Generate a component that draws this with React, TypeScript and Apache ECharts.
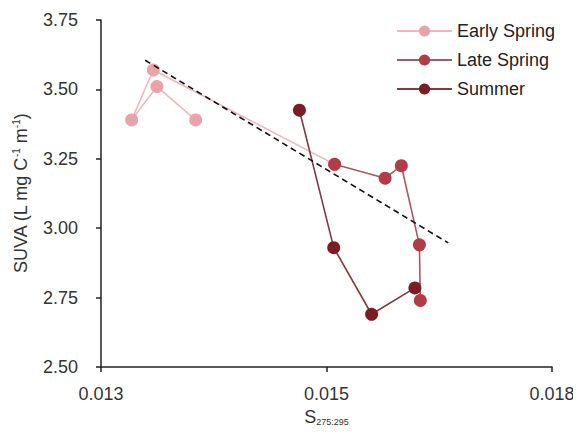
import React, { useEffect, useRef } from "react";
import * as echarts from "echarts";

const seriesNames = ["Early Spring", "Late Spring", "Summer"];
const earlySpring: [number, number][] = [
  [0.01355, 3.39],
  [0.01312, 3.51],
  [0.01284, 3.39],
  [0.01308, 3.57],
  [0.01509, 3.23],
];
const lateSpring: [number, number][] = [
  [0.01509, 3.23],
  [0.01565, 3.18],
  [0.01583, 3.225],
  [0.01603, 2.94],
  [0.01604, 2.74],
];
const summer: [number, number][] = [
  [0.0147, 3.425],
  [0.01508, 2.93],
  [0.0155, 2.69],
  [0.01598, 2.785],
];
const trendLine: [number, number][] = [
  [0.01299, 3.605],
  [0.01635, 2.947],
];
const xTickLabels = ["0.013", "0.015", "0.018"];

const markerColors = ["#e9a4a8", "#b23b45", "#7b1d23"];
const lineColors = ["#efb7ba", "#a8595e", "#84393e"];

export default function App() {
  const ref = useRef<HTMLDivElement>(null);
  useEffect(() => {
    if (!ref.current) return;
    const chart = echarts.init(ref.current, undefined, { renderer: "svg" });
    const font = "'Liberation Sans', Arial, sans-serif";
    const mk = (name: string, data: [number, number][], i: number) => ({
      name,
      type: "line",
      data,
      symbol: "circle",
      symbolSize: 13,
      itemStyle: { color: markerColors[i] },
      lineStyle: { color: lineColors[i], width: 1.6 },
      z: 2 + i,
    });
    chart.setOption({
      animation: false,
      textStyle: { fontFamily: font },
      grid: { left: 93, right: 29, top: 12, bottom: 73, containLabel: false, outerBoundsMode: "none" },
      legend: {
        data: seriesNames,
        orient: "vertical",
        left: 383,
        top: 9,
        itemWidth: 55,
        itemHeight: 14,
        itemGap: 11,
        textStyle: { fontSize: 18, color: "#222", fontFamily: font },
      },
      xAxis: {
        type: "value",
        min: 0.0125,
        max: 0.0175,
        interval: 0.0025,
        splitLine: { show: false },
        axisLine: { lineStyle: { color: "#222", width: 1.5 } },
        axisTick: { inside: false, length: 5, lineStyle: { color: "#222", width: 1.5 } },
        axisLabel: {
          margin: 18,
          fontSize: 18,
          color: "#333",
          formatter: (v: number) => xTickLabels[Math.round((v - 0.0125) / 0.0025)] ?? "",
        },
        name: "{s|S}{sub|275:295}",
        nameLocation: "middle",
        nameGap: 38,
        nameTextStyle: {
          rich: {
            s: { fontSize: 18, color: "#333", fontFamily: font },
            sub: { fontSize: 9, color: "#333", fontFamily: font, padding: [10, 0, 0, 0] },
          },
        },
      },
      yAxis: {
        type: "value",
        min: 2.5,
        max: 3.75,
        interval: 0.25,
        splitLine: { show: false },
        axisLine: { show: true, lineStyle: { color: "#222", width: 1.5 } },
        axisTick: { show: true, inside: false, length: 5, lineStyle: { color: "#222", width: 1.5 } },
        axisLabel: {
          margin: 23,
          fontSize: 18,
          color: "#333",
          formatter: (v: number) => v.toFixed(2),
        },
        name: "{t|SUVA (L mg C}{sup|-1}{t| m}{sup|-1}{t|)}",
        nameLocation: "middle",
        nameRotate: 90,
        nameGap: 71,
        nameTextStyle: {
          rich: {
            t: { fontSize: 18, color: "#333", fontFamily: font },
            sup: { fontSize: 10, color: "#333", fontFamily: font, padding: [0, 0, 9, 0] },
          },
        },
      },
      series: [
        mk(seriesNames[0], earlySpring, 0),
        mk(seriesNames[1], lateSpring, 1),
        mk(seriesNames[2], summer, 2),
        {
          name: "trend",
          type: "line",
          data: trendLine,
          symbol: "none",
          lineStyle: { color: "#111", width: 1.6, type: [6, 4] },
          z: 10,
        },
      ],
    });
    return () => chart.dispose();
  }, []);
  return <div ref={ref} style={{ width: 573, height: 432 }} />;
}
